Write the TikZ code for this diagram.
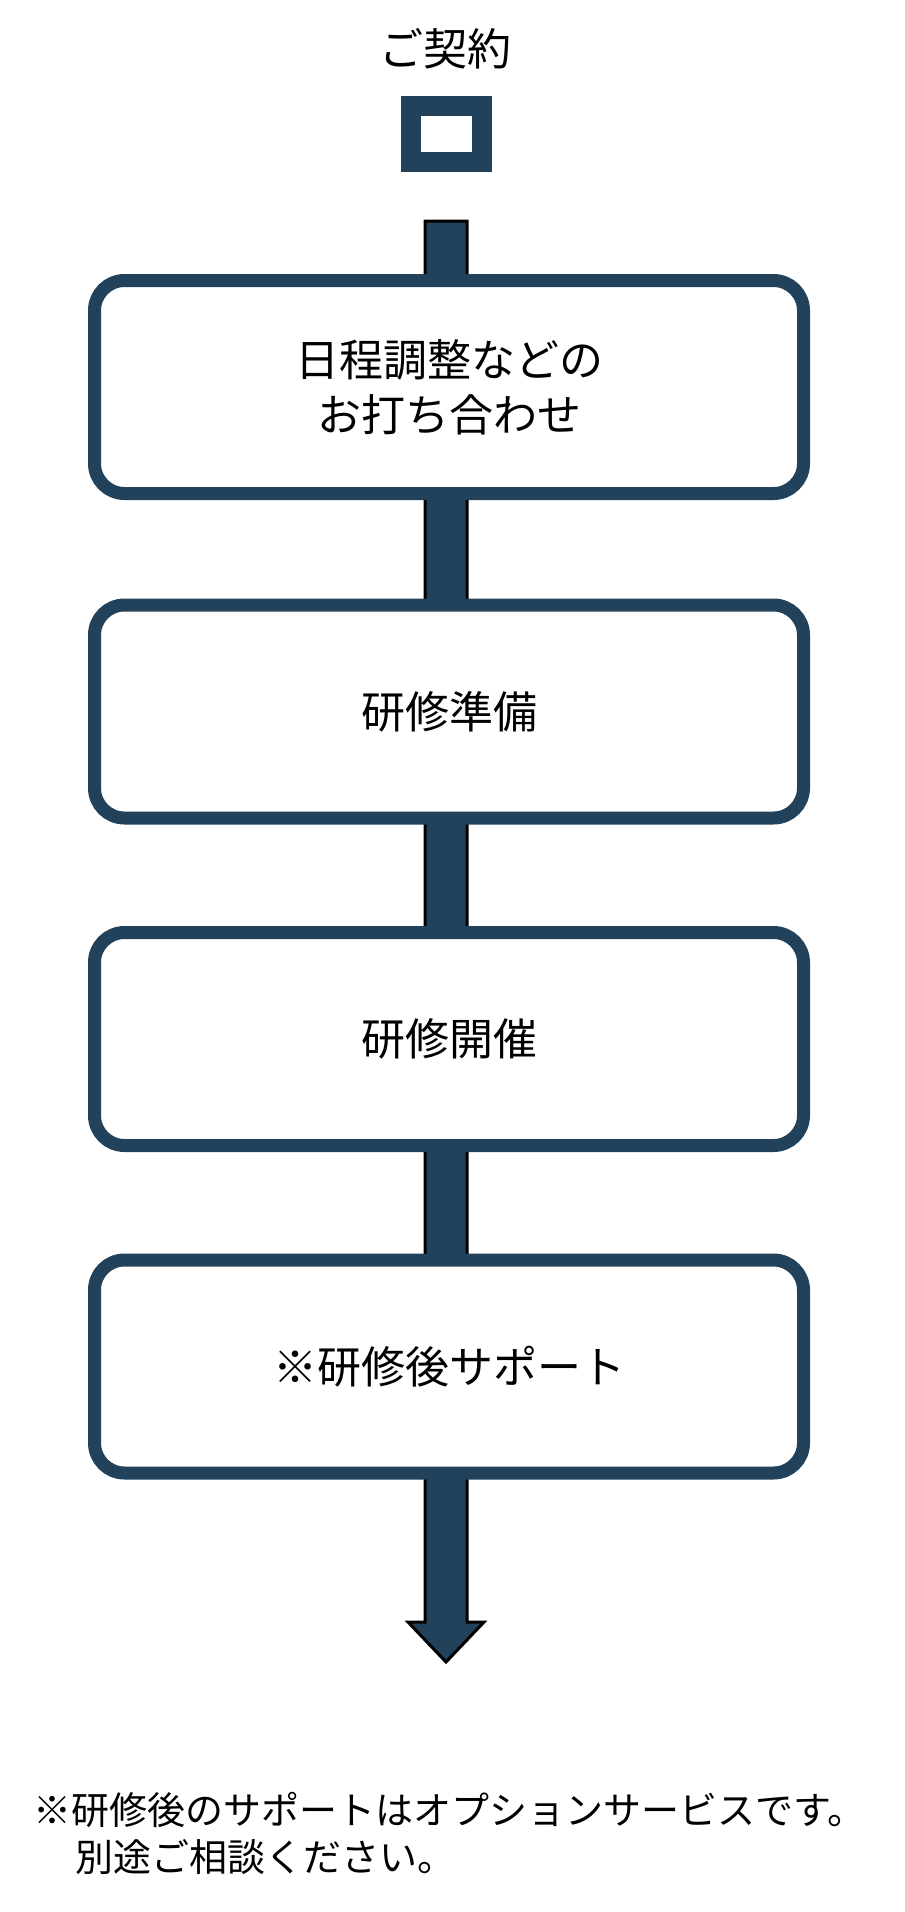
\documentclass[tikz,border=0pt]{standalone}
\usepackage{fontspec}
\setmainfont{Noto Sans CJK JP}
\definecolor{navy}{HTML}{22415A}
\begin{document}
\begin{tikzpicture}[x=1pt,y=-1pt,
  stepbox/.style={draw=navy,line width=13pt,fill=white,rounded corners=30pt,minimum width=709pt,minimum height=213pt,align=center,font=\fontsize{44}{55}\selectfont,inner sep=0pt},
  lbl/.style={font=\fontsize{44}{55}\selectfont,inner sep=0pt}]
\useasboundingbox (0,0) rectangle (905,1912);
\fill[white] (0,0) rectangle (905,1912);
\node[lbl] (title) at (445,49) {ご契約};
\node[draw=navy,line width=20pt,minimum width=71pt,minimum height=56pt,inner sep=0pt] (sq) at (446.5,134) {};
\draw[fill=navy,draw=black,line width=3pt] (425,221) -- (467,221) -- (467,1622) -- (484,1622) -- (446,1662) -- (408,1622) -- (425,1622) -- cycle;
\coordinate (tip) at (446,1662);
\node[stepbox] (b1) at (449,387) {日程調整などの\\お打ち合わせ};
\node[stepbox] (b2) at (449,711.5) {研修準備};
\node[stepbox] (b3) at (449,1039) {研修開催};
\node[stepbox] (b4) at (449,1366.5) {※研修後サポート};
\node[anchor=west,font=\fontsize{38}{47}\selectfont,inner sep=0pt] (n1) at (33,1810) {※研修後のサポートはオプションサービスです。};
\node[anchor=west,font=\fontsize{38}{47}\selectfont,inner sep=0pt] (n2) at (75,1857) {別途ご相談ください。};
\end{tikzpicture}
\end{document}
